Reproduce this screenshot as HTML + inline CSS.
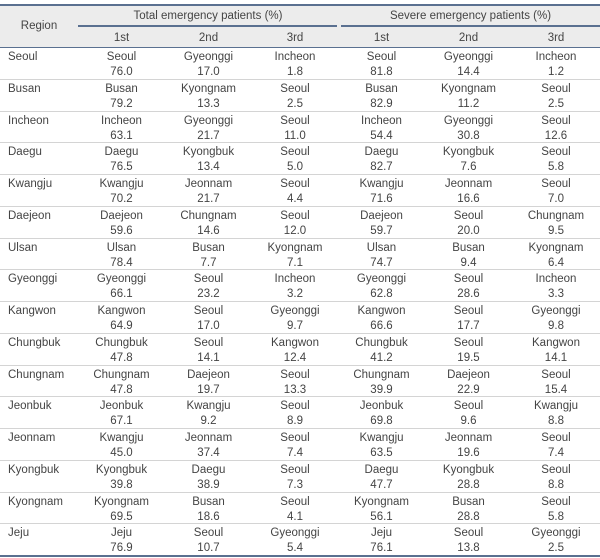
<!DOCTYPE html>
<html><head><meta charset="utf-8"><style>
body{margin:0;width:600px;height:558px;background:#fff;font-family:"Liberation Sans",sans-serif;color:#444;overflow:hidden;position:relative}
.hdr{position:absolute;left:0;top:4px;width:600px;height:44px;background:#ececec;border-top:2px solid #5a7090;border-bottom:1.5px solid #5a7090;box-sizing:border-box}
.t{position:absolute;font-size:11.5px;text-align:center;line-height:14px;white-space:nowrap}
.gl{position:absolute;top:25px;height:1.5px;background:#5a7090}
.row{position:absolute;left:0;width:600px;height:32px;border-bottom:1px solid #d4d4d4;box-sizing:border-box}
.bot{position:absolute;left:0;top:555px;width:600px;height:2px;background:#5a7090}
</style></head><body>
<div class="hdr"></div>
<div class="gl" style="left:78px;width:259px"></div>
<div class="gl" style="left:341px;width:259px"></div>
<div class="t" style="left:0;width:78px;top:19px">Region</div>
<div class="t" style="left:78px;width:260px;top:9px">Total emergency patients (%)</div>
<div class="t" style="left:341px;width:259px;top:9px">Severe emergency patients (%)</div>
<div id="body"></div>
<div class="bot"></div>
<script>
const colX=[[78,87],[165,87],[252,86],[338,87],[425,87],[512,88]];
const ranks=["1st","2nd","3rd","1st","2nd","3rd"];
const regions=["Seoul","Busan","Incheon","Daegu","Kwangju","Daejeon","Ulsan","Gyeonggi","Kangwon","Chungbuk","Chungnam","Jeonbuk","Jeonnam","Kyongbuk","Kyongnam","Jeju"];
const names=[
["Seoul","Gyeonggi","Incheon","Seoul","Gyeonggi","Incheon"],
["Busan","Kyongnam","Seoul","Busan","Kyongnam","Seoul"],
["Incheon","Gyeonggi","Seoul","Incheon","Gyeonggi","Seoul"],
["Daegu","Kyongbuk","Seoul","Daegu","Kyongbuk","Seoul"],
["Kwangju","Jeonnam","Seoul","Kwangju","Jeonnam","Seoul"],
["Daejeon","Chungnam","Seoul","Daejeon","Seoul","Chungnam"],
["Ulsan","Busan","Kyongnam","Ulsan","Busan","Kyongnam"],
["Gyeonggi","Seoul","Incheon","Gyeonggi","Seoul","Incheon"],
["Kangwon","Seoul","Gyeonggi","Kangwon","Seoul","Gyeonggi"],
["Chungbuk","Seoul","Kangwon","Chungbuk","Seoul","Kangwon"],
["Chungnam","Daejeon","Seoul","Chungnam","Daejeon","Seoul"],
["Jeonbuk","Kwangju","Seoul","Jeonbuk","Seoul","Kwangju"],
["Kwangju","Jeonnam","Seoul","Kwangju","Jeonnam","Seoul"],
["Kyongbuk","Daegu","Seoul","Daegu","Kyongbuk","Seoul"],
["Kyongnam","Busan","Seoul","Kyongnam","Busan","Seoul"],
["Jeju","Seoul","Gyeonggi","Jeju","Seoul","Gyeonggi"]];
const values=[
["76.0","17.0","1.8","81.8","14.4","1.2"],
["79.2","13.3","2.5","82.9","11.2","2.5"],
["63.1","21.7","11.0","54.4","30.8","12.6"],
["76.5","13.4","5.0","82.7","7.6","5.8"],
["70.2","21.7","4.4","71.6","16.6","7.0"],
["59.6","14.6","12.0","59.7","20.0","9.5"],
["78.4","7.7","7.1","74.7","9.4","6.4"],
["66.1","23.2","3.2","62.8","28.6","3.3"],
["64.9","17.0","9.7","66.6","17.7","9.8"],
["47.8","14.1","12.4","41.2","19.5","14.1"],
["47.8","19.7","13.3","39.9","22.9","15.4"],
["67.1","9.2","8.9","69.8","9.6","8.8"],
["45.0","37.4","7.4","63.5","19.6","7.4"],
["39.8","38.9","7.3","47.7","28.8","8.8"],
["69.5","18.6","4.1","56.1","28.8","5.8"],
["76.9","10.7","5.4","76.1","13.8","2.5"]];
function mk(txt,l,w,top,name){
 const d=document.createElement('div');d.className='t';
 d.style.left=l+'px';d.style.width=w+'px';d.style.top=top+'px';d.textContent=txt;
 
 
 document.body.appendChild(d);}
ranks.forEach((r,i)=>mk(r,colX[i][0],colX[i][1],31,'rank-header-'+i));
const rh=31.75,y0=48;
regions.forEach((reg,i)=>{
 const top=y0+i*rh;
 const row=document.createElement('div');row.className='row';
 row.style.top=top+'px';row.style.height=rh+'px';
 if(i==regions.length-1)row.style.borderBottom='none';
 
 
 document.body.appendChild(row);
 const d=document.createElement('div');d.className='t';
 d.style.left='8px';d.style.top=(top+2)+'px';d.style.textAlign='left';d.textContent=reg;
 
 
 document.body.appendChild(d);
 for(let c=0;c<6;c++){
  mk(names[i][c],colX[c][0],colX[c][1],top+2,'cell-name');
  mk(values[i][c],colX[c][0],colX[c][1],top+17,'cell-value');
 }
});
</script>
</body></html>
